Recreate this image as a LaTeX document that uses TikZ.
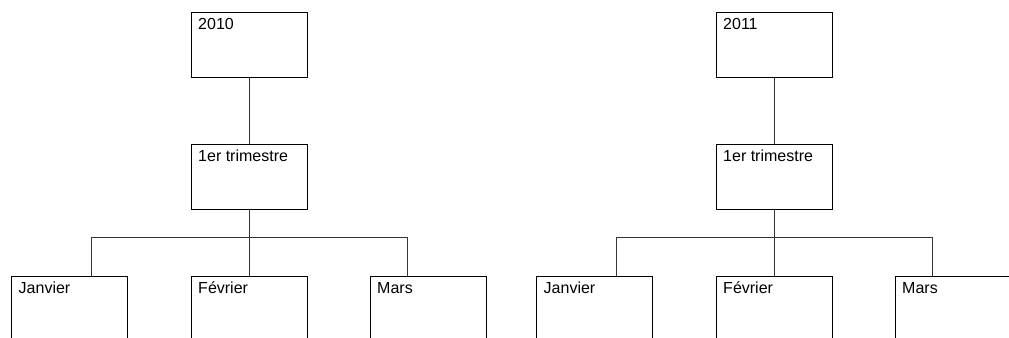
\documentclass[tikz,border=0pt]{standalone}
\usepackage{fontspec}
\setmainfont{Liberation Sans}
\usetikzlibrary{calc}
\tikzset{
  box/.style={rectangle, draw=black, line width=0.75pt, inner sep=0pt,
    minimum width=87pt, minimum height=48.75pt, label={[lbl]north west:#1}},
  lbl/.style={anchor=north west, inner xsep=5.6pt, inner ysep=4.5pt,
    font=\fontsize{12pt}{14pt}\selectfont, text height=8.6pt, text depth=2.5pt},
  link/.style={draw=black!80, line width=0.75pt},
}

\begin{document}
\begin{tikzpicture}[x=0.75pt, y=-0.75pt]

  \clip (0,0) rectangle (1009,337);
  \fill[white] (0,0) rectangle (1009,337);

  \foreach \yr/\cx in {2010/249, 2011/774} {
    \node[box={\yr}] (yr\yr) at (\cx,44.5) {};
    \node[box={1er trimestre}] (tri\yr) at (\cx,177) {};
    \node[box={Janvier}] (jan\yr) at (\cx-179.5,308.5) {};
    \node[box={Février}] (fev\yr) at (\cx,308.5) {};
    \node[box={Mars}] (mar\yr) at (\cx+179,308.5) {};

    \draw[link] (yr\yr) -- (tri\yr);
    \draw[link] (tri\yr) -- (fev\yr);
    \draw[link] ($(jan\yr.north east)+(-37,0)$) -- ++(0,-38)
      -| ($(mar\yr.north west)+(38,0)$);
  }

\end{tikzpicture}
\end{document}
